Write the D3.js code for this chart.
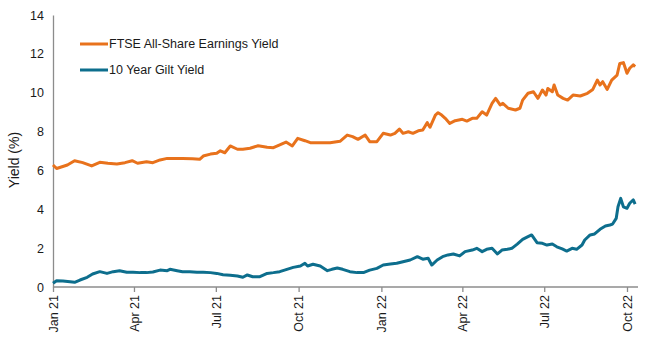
<!DOCTYPE html>
<html>
<head>
<meta charset="utf-8">
<script src="https://cdn.jsdelivr.net/npm/d3@7"></script>
<style>
  body { margin: 0; background: #fff; }
  text { font-family: "Liberation Sans", Arial, sans-serif; }
</style>
</head>
<body>
<script>
// FTSE All-Share earnings yield (%)
var ftseDates = ["2021-01-01","2021-01-05","2021-01-17","2021-01-25","2021-02-03","2021-02-13","2021-02-22","2021-03-03",
  "2021-03-13","2021-03-22","2021-03-30","2021-04-05","2021-04-15","2021-04-22","2021-04-30","2021-05-08","2021-05-17",
  "2021-05-25","2021-06-05","2021-06-13","2021-06-17","2021-06-25","2021-07-02","2021-07-06","2021-07-11","2021-07-17",
  "2021-07-25","2021-07-31","2021-08-08","2021-08-17","2021-08-27","2021-09-03","2021-09-10","2021-09-17","2021-09-24",
  "2021-09-30","2021-10-08","2021-10-14","2021-10-25","2021-11-05","2021-11-16","2021-11-24","2021-11-30","2021-12-06",
  "2021-12-14","2021-12-19","2021-12-27","2022-01-03","2022-01-11","2022-01-16","2022-01-21","2022-01-25","2022-01-31",
  "2022-02-05","2022-02-11","2022-02-16","2022-02-21","2022-02-24","2022-03-02","2022-03-05","2022-03-09","2022-03-13",
  "2022-03-18","2022-03-24","2022-04-01","2022-04-06","2022-04-12","2022-04-17","2022-04-23","2022-04-28","2022-05-04",
  "2022-05-08","2022-05-13","2022-05-16","2022-05-22","2022-05-30","2022-06-04","2022-06-07","2022-06-13","2022-06-19",
  "2022-06-24","2022-06-29","2022-07-03","2022-07-05","2022-07-10","2022-07-12","2022-07-16","2022-07-22","2022-07-27",
  "2022-08-02","2022-08-10","2022-08-18","2022-08-24","2022-08-29","2022-09-01","2022-09-04","2022-09-09","2022-09-14",
  "2022-09-20","2022-09-23","2022-09-27","2022-10-01","2022-10-04","2022-10-08","2022-10-10"];
var ftseValues = [6.28,6.1,6.28,6.5,6.4,6.23,6.42,6.37,
  6.33,6.4,6.5,6.37,6.45,6.4,6.54,6.62,6.62,
  6.62,6.6,6.57,6.74,6.84,6.88,7.01,6.91,7.26,
  7.09,7.09,7.14,7.27,7.19,7.17,7.31,7.46,7.26,
  7.65,7.53,7.43,7.43,7.43,7.5,7.82,7.74,7.6,
  7.82,7.48,7.48,7.91,7.82,7.91,8.13,7.91,7.99,
  7.91,8.04,8.08,8.46,8.22,8.85,8.97,8.85,8.68,
  8.42,8.56,8.63,8.54,8.68,8.68,9.02,8.85,9.45,
  9.71,9.37,9.45,9.2,9.11,9.2,9.62,9.97,10.05,
  9.71,10.14,9.88,10.22,10.05,10.4,9.88,9.71,9.62,
  9.88,9.83,9.97,10.17,10.65,10.4,10.57,10.17,10.65,
  10.91,11.51,11.55,11.0,11.26,11.43,11.34];

// 10 year gilt yield (%)
var giltDates = ["2021-01-01","2021-01-05","2021-01-12","2021-01-20","2021-01-25","2021-01-31","2021-02-08","2021-02-14",
  "2021-02-22","2021-03-02","2021-03-09","2021-03-16","2021-03-24","2021-03-31","2021-04-08","2021-04-15","2021-04-22",
  "2021-04-30","2021-05-08","2021-05-11","2021-05-19","2021-05-25","2021-06-02","2021-06-10","2021-06-17","2021-06-25",
  "2021-07-02","2021-07-09","2021-07-17","2021-07-25","2021-07-31","2021-08-05","2021-08-11","2021-08-19","2021-08-27",
  "2021-09-03","2021-09-10","2021-09-18","2021-09-25","2021-10-03","2021-10-08","2021-10-11","2021-10-17","2021-10-25",
  "2021-11-02","2021-11-07","2021-11-13","2021-11-19","2021-11-27","2021-12-05","2021-12-12","2021-12-19","2021-12-27",
  "2022-01-03","2022-01-11","2022-01-18","2022-01-25","2022-02-02","2022-02-10","2022-02-16","2022-02-22","2022-02-26",
  "2022-03-04","2022-03-10","2022-03-16","2022-03-22","2022-03-29","2022-04-04","2022-04-12","2022-04-17","2022-04-23",
  "2022-04-28","2022-05-04","2022-05-10","2022-05-15","2022-05-21","2022-05-26","2022-06-01","2022-06-07","2022-06-13",
  "2022-06-17","2022-06-23","2022-06-29","2022-07-04","2022-07-10","2022-07-15","2022-07-21","2022-07-26","2022-08-01",
  "2022-08-06","2022-08-12","2022-08-15","2022-08-21","2022-08-26","2022-09-01","2022-09-07","2022-09-12","2022-09-15",
  "2022-09-19","2022-09-21","2022-09-24","2022-09-27","2022-10-01","2022-10-04","2022-10-08","2022-10-10"];
var giltValues = [0.19,0.32,0.31,0.27,0.24,0.36,0.5,0.67,
  0.79,0.7,0.79,0.84,0.76,0.76,0.74,0.74,0.77,
  0.87,0.84,0.91,0.84,0.79,0.79,0.76,0.76,0.74,
  0.7,0.63,0.6,0.57,0.5,0.62,0.53,0.53,0.7,
  0.74,0.79,0.91,1.01,1.08,1.22,1.08,1.17,1.08,
  0.84,0.91,0.98,0.91,0.79,0.74,0.74,0.87,0.96,
  1.13,1.18,1.22,1.3,1.39,1.56,1.43,1.48,1.13,
  1.39,1.56,1.65,1.7,1.6,1.82,1.9,1.99,1.82,
  1.94,1.99,1.7,1.9,1.94,1.99,2.21,2.45,2.59,
  2.68,2.28,2.25,2.16,2.21,2.07,1.96,1.85,1.99,
  1.94,2.16,2.42,2.68,2.73,2.97,3.14,3.19,3.24,
  3.53,4.13,4.56,4.13,4.05,4.31,4.48,4.27];

var seriesNames = ["FTSE All-Share Earnings Yield", "10 Year Gilt Yield"];
var seriesColors = ["#E8721C", "#0D6E8D"];
var yTicks = [0, 2, 4, 6, 8, 10, 12, 14];
var xTicks = ["2021-01-01","2021-04-01","2021-07-01","2021-10-01","2022-01-01","2022-04-01","2022-07-01","2022-10-01"];

var w = 660;
var h = 350;
var plotLeft = 53, plotTop = 15, plotBottom = 287;

var parse = d3.timeParse("%Y-%m-%d");

var series = [
  ftseDates.map(function(d, i) { return { date: parse(d), value: ftseValues[i] }; }),
  giltDates.map(function(d, i) { return { date: parse(d), value: giltValues[i] }; })
];

// Oct 1 2022 sits at x = 627
var xScale = d3.scaleTime()
    .domain([parse("2021-01-01"), parse("2022-10-01")])
    .range([plotLeft, 627]);

var yScale = d3.scaleLinear()
    .domain([0, 14])
    .range([plotBottom, plotTop]);

var svg = d3.select("body")
    .append("svg")
    .attr("width", w)
    .attr("height", h);

// y axis (no ticks, just line + labels)
var yAxis = d3.axisLeft(yScale)
    .tickValues(yTicks)
    .tickSize(0)
    .tickPadding(9)
    .tickFormat(d3.format("d"));

var gy = svg.append("g")
    .attr("transform", "translate(" + plotLeft + ",0)")
    .call(yAxis);
gy.select(".domain").attr("stroke", "#8c8c8c").attr("stroke-width", 1.3);
gy.selectAll("text").attr("font-size", "12.5px").attr("fill", "#1a1a1a")
    .attr("font-family", "Liberation Sans, Arial, sans-serif");

// x axis
var xAxis = d3.axisBottom(xScale)
    .tickValues(xTicks.map(parse))
    .tickSize(5)
    .tickSizeOuter(0)
    .tickFormat(d3.timeFormat("%b %y"));

var gx = svg.append("g")
    .attr("transform", "translate(0," + plotBottom + ")")
    .call(xAxis);
gx.select(".domain").attr("stroke", "#8c8c8c").attr("stroke-width", 1.3)
    .attr("d", "M" + plotLeft + ",0H" + 638);
gx.selectAll("line").attr("stroke", "#8c8c8c").attr("stroke-width", 1.3);
gx.selectAll("text")
    .attr("font-size", "12.5px")
    .attr("fill", "#1a1a1a")
    .attr("font-family", "Liberation Sans, Arial, sans-serif")
    .attr("text-anchor", "end")
    .attr("transform", "rotate(-90)")
    .attr("x", -8)
    .attr("y", 0)
    .attr("dy", "0.35em");

// lines
var line = d3.line()
    .x(function(d) { return xScale(d.date); })
    .y(function(d) { return yScale(d.value); });

series.forEach(function(s, i) {
  svg.append("path")
      .datum(s)
      .attr("fill", "none")
      .attr("stroke", seriesColors[i])
      .attr("stroke-width", 3)
      .attr("stroke-linejoin", "round")
      .attr("d", line);
});

// legend
var legend = svg.append("g");
seriesNames.forEach(function(name, i) {
  var ly = 44 + i * 26;
  legend.append("line")
      .attr("x1", 80).attr("x2", 108)
      .attr("y1", ly).attr("y2", ly)
      .attr("stroke", seriesColors[i])
      .attr("stroke-width", 3);
  legend.append("text")
      .attr("x", 109)
      .attr("y", ly)
      .attr("dy", "0.35em")
      .attr("font-size", "12.5px")
      .attr("fill", "#1a1a1a")
      .text(name);
});

// Y axis label
svg.append("text")
    .attr("text-anchor", "middle")
    .attr("transform", "rotate(-90)")
    .attr("x", -160)
    .attr("y", 19)
    .attr("font-size", "14px")
    .attr("fill", "#1a1a1a")
    .text("Yield (%)");
</script>
</body>
</html>
